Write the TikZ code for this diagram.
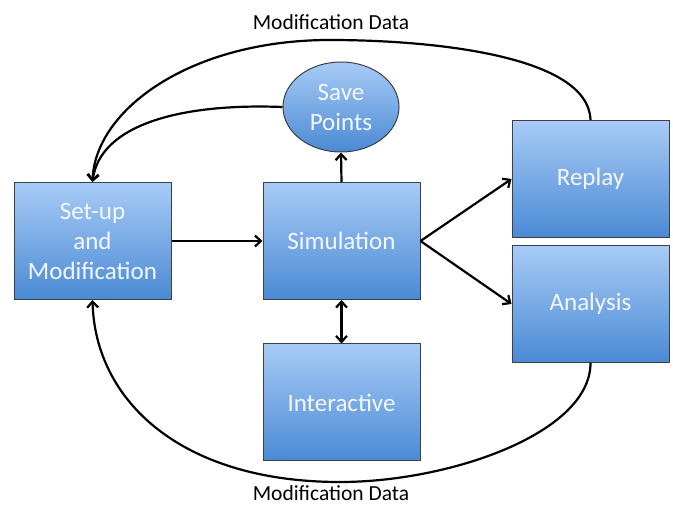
\documentclass[tikz,border=0pt]{standalone}
\usepackage{fontspec}
\setmainfont{Carlito}
\usetikzlibrary{shapes.geometric,arrows.meta}
\definecolor{boxtop}{HTML}{A8CBF6}
\definecolor{boxbot}{HTML}{4A8AD4}
\definecolor{boxline}{HTML}{3A3F48}
\definecolor{boxtext}{HTML}{F4F7FF}
\tikzset{
  blk/.style={draw=boxline, line width=1pt, top color=boxtop, bottom color=boxbot,
    minimum width=157pt, minimum height=117pt, inner sep=0pt, text=boxtext,
    font=\fontsize{25}{30}\selectfont, align=center},
  oval/.style={ellipse, draw=boxline, line width=1pt, top color=boxtop, bottom color=boxbot,
    minimum width=116pt, minimum height=90pt, inner sep=0pt, text=boxtext,
    font=\fontsize{25}{30}\selectfont, align=center},
  tip/.style={Straight Barb[length=6pt,width=11pt,line width=2.2pt]},
  conn/.style={line width=2.2pt, -{Straight Barb[length=6pt,width=11pt,line width=2.2pt]}},
  lbl/.style={font=\fontsize{21.5}{25}\selectfont, text=black}
}
\begin{document}
\begin{tikzpicture}[x=1pt,y=-1pt]
\useasboundingbox (0,0) rectangle (673,505);
\node[blk] (setup) at (92.5,241) {Set-up\\and\\Modification};
\node[blk] (sim) at (341.5,241) {Simulation};
\node[blk] (inter) at (341.5,402.5) {Interactive};
\node[blk] (replay) at (590.5,179) {Replay};
\node[blk] (analysis) at (590.5,304) {Analysis};
\node[oval] (save) at (341,107) {Save\\Points};
\node[lbl] (toplbl) at (331,22) {Modification Data};
\node[lbl] (botlbl) at (331,493) {Modification Data};
\draw[conn] (setup.east) -- (sim.west);
\draw[conn] (sim.north) -- (save.south);
\draw[conn, {Straight Barb[length=6pt,width=11pt,line width=2.2pt]}-{Straight Barb[length=6pt,width=11pt,line width=2.2pt]}] (sim.south) -- (inter.north);
\draw[conn] (sim.east) -- (replay.west);
\draw[conn] (sim.east) -- (analysis.west);
\draw[conn] (replay.north) .. controls +(-2,-65) and (430,40) .. (330,40)
  .. controls (190,40) and (95,110) .. (setup.north);
\draw[conn] (save.west) .. controls (180,103) and (100,125) .. (setup.north);
\draw[conn] (analysis.south) .. controls +(0,70) and (450,482) .. (340,482)
  .. controls (180,482) and (95,400) .. (setup.south);
\end{tikzpicture}
\end{document}
